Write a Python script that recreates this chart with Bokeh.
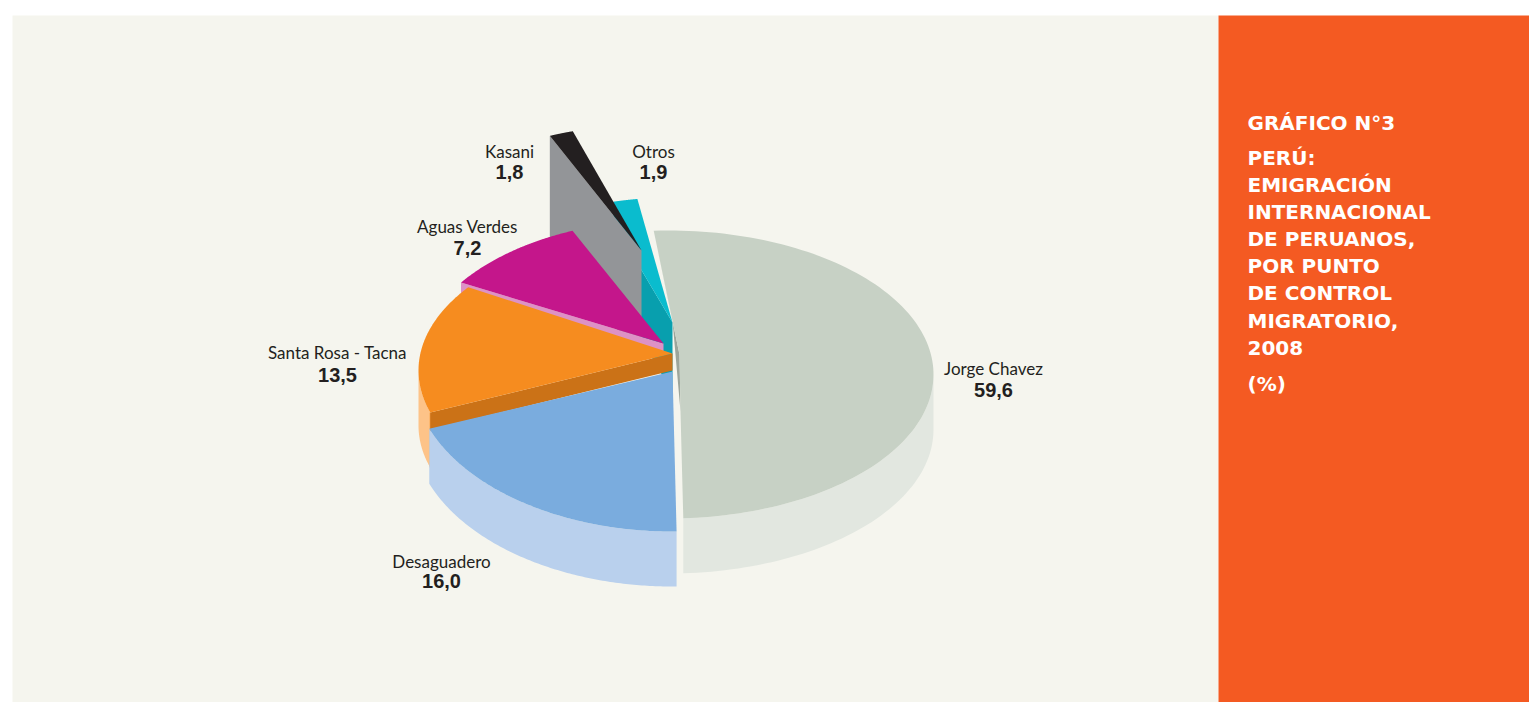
import numpy as np
from bokeh.embed import file_html
from bokeh.models import Range1d
from bokeh.plotting import figure
from bokeh.resources import INLINE
from bokeh.core.properties import value

# ---- data -------------------------------------------------------------
names = ["Jorge Chavez", "Desaguadero", "Santa Rosa - Tacna", "Aguas Verdes", "Kasani", "Otros"]
percent = [59.6, 16.0, 13.5, 7.2, 1.8, 1.9]
# share of the circle that each slice really takes up in the drawing
drawn_share = [50.0, 19.5, 15.0, 9.1, 1.7, 1.7]
title_lines = ["GRÁFICO N°3", "PERÚ:", "EMIGRACIÓN", "INTERNACIONAL", "DE PERUANOS,",
               "POR PUNTO", "DE CONTROL", "MIGRATORIO,", "2008", "(%)"]

# ---- layout and style --------------------------------------------------
W, H = 1529, 702
PANEL_BG, SIDE_BG = "#f5f5ee", "#f45a22"
title_y = [122, 157, 184, 211, 238, 265, 292, 320, 347, 383]
layout = {
    "Jorge Chavez": dict(c=(668, 374), rx=265, ry=144, start=-3.2, apex=[(680, 411), (679, 354)],
                         face="#c7d1c5", side="#e2e7e0", side_depth=55, label=(993, 368, 389)),
    "Desaguadero": dict(c=(672, 372), rx=260, ry=159, start=179.1, apex=[(672, 371)],
                        face="#7aacde", side="#b9d0ed", side_depth=55, label=(441, 561, 580)),
    "Santa Rosa - Tacna": dict(c=(672, 370), rx=254, ry=140, start=252.5, apex=[(672, 353)],
                               face="#f68c1f", side="#fdc388", side_depth=55, wall="#cb7217",
                               wall_depth=17, label=(337, 352, 374)),
    "Aguas Verdes": dict(c=(663, 370), rx=250, ry=150, start=305.9, apex=[(663, 343)],
                         face="#c4168b", wall="#dd92c5", wall_depth=12, label=(467, 226, 247)),
    "Kasani": dict(c=(641, 250), rx=230, ry=125, start=336.5, apex=[(641, 250)],
                   face="#231f20", wall="#939598", wall_depth=110, label=(509, 151, 171)),
    "Otros": dict(c=(672, 322), rx=230, ry=125, start=345.1, apex=[(672, 322)], face_drop=21,
                  face="#0abcce", wall="#089fae", wall_depth=70, label=(653, 151, 171)),
}
DRAW_ORDER = ["Otros", "Kasani", "Aguas Verdes", "Santa Rosa - Tacna", "Desaguadero", "Jorge Chavez"]
STRIP_COLOR = "#9ca59b"


def arc(lay, share, n=120):
    t = np.radians(lay["start"] + np.linspace(0, 360 * share / 100, n))
    return lay["c"][0] + lay["rx"] * np.sin(t), lay["c"][1] - lay["ry"] * np.cos(t), t


p = figure(width=W, height=H, x_range=Range1d(0, W), y_range=Range1d(H, 0),
           x_axis_type=None, y_axis_type=None, toolbar_location=None, output_backend="svg",
           background_fill_color="white", border_fill_color="white", outline_line_color=None,
           min_border=0)
p.grid.visible = False

p.quad(left=12, right=1218, top=15, bottom=H, fill_color=PANEL_BG, line_color=None)
p.quad(left=1218, right=W, top=15, bottom=H, fill_color=SIDE_BG, line_color=None)

shares = dict(zip(names, drawn_share))


def poly(xs, ys, color):
    p.patch(list(xs), list(ys), fill_color=color, line_color=None)


for name in DRAW_ORDER:
    lay = layout[name]
    ax, ay, t = arc(lay, shares[name])
    apex_x = [q[0] for q in lay["apex"]]
    apex_y = [q[1] for q in lay["apex"]]
    drop = lay.get("face_drop", 0)

    if "side" in lay:
        d = lay["side_depth"]
        front = np.cos(t) < 0  # only the near half of the rim shows its side
        fx, fy = ax[front], ay[front]
        poly(np.r_[fx, fx[::-1]], np.r_[fy, fy[::-1] + d], lay["side"])
    if name == "Santa Rosa - Tacna":
        p.line([ax[0], ax[0]], [ay[0], ay[0] + lay["side_depth"]], line_color=lay["face"], line_width=1)
    if "wall" in lay:
        d = lay["wall_depth"]
        x0, y0 = ax[0], ay[0] + drop
        poly([apex_x[0], x0, x0, apex_x[0]], [apex_y[0], y0, y0 + d, apex_y[0] + d], lay["wall"])
    if name == "Jorge Chavez":
        sx = [ax[0], 672, apex_x[0], apex_x[1]]
        sy = [ay[0], 320, apex_y[0], apex_y[1]]
        poly(sx, sy, STRIP_COLOR)
    if drop:
        poly(np.r_[ax[0], ax, apex_x], np.r_[ay[0] + drop, ay, apex_y], lay["face"])
    else:
        poly(np.r_[ax, apex_x], np.r_[ay, apex_y], lay["face"])

for name, val in zip(names, percent):
    x, y1, y2 = layout[name]["label"]
    p.text([x], [y1], text=[name], text_font=value("Lato"), text_font_size="17px",
           text_color="#231f20", text_align="center", text_baseline="alphabetic")
    p.text([x], [y2], text=[f"{val:.1f}".replace(".", ",")], text_font=value("Liberation Sans"),
           text_font_style="bold", text_font_size="20px", text_color="#231f20",
           text_align="center", text_baseline="alphabetic")

for line, y in zip(title_lines, title_y):
    p.text([1247], [y], text=[line], text_font=value("DejaVu Sans"), text_font_style="bold",
           text_font_size="20px", text_color="white", text_align="left", text_baseline="alphabetic")

open("out.html", "w").write(file_html(p, INLINE))
